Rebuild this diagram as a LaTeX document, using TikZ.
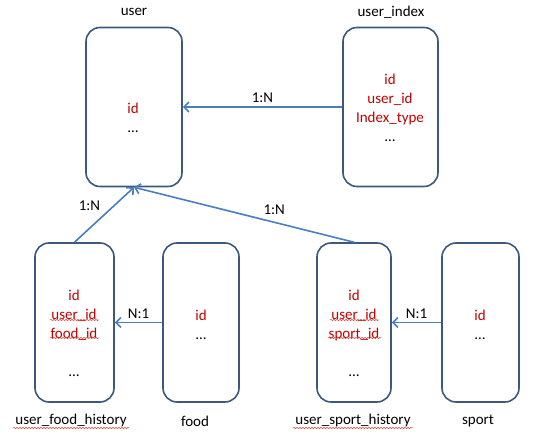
\documentclass[tikz,border=0pt]{standalone}
\usepackage{fontspec}
\setmainfont{Carlito}
\usepackage{xcolor}
\usetikzlibrary{arrows.meta,decorations.pathmorphing}
\definecolor{boxline}{RGB}{60,88,125}
\definecolor{relline}{RGB}{74,126,187}
\definecolor{fieldred}{RGB}{192,0,0}
\definecolor{squigred}{RGB}{235,70,70}

\begin{document}
\begin{tikzpicture}
  [x=1pt,y=-1pt,font=\fontsize{15}{19}\selectfont,
   table/.style={draw=boxline,line width=1.6pt,rounded corners=14pt,inner sep=0pt,minimum height=159pt},
   field/.style={text=fieldred,align=center},
   rel/.style={draw=relline,line width=1.6pt,-{Straight Barb[length=5pt,width=10pt]}},
   squig/.style={draw=squigred,line width=.5pt,decorate,decoration={snake,amplitude=.7pt,segment length=3pt}}]

  \useasboundingbox (0,0) rectangle (542,441);

  % tables
  \node[table,minimum width=96pt] (user) at (134,107) {};
  \node[table,minimum width=95pt] (index) at (390.5,107) {};
  \node[table,minimum width=79pt] (foodhist) at (74.5,322.5) {};
  \node[table,minimum width=76pt] (food) at (201,322.5) {};
  \node[table,minimum width=74pt] (sporthist) at (354,322.5) {};
  \node[table,minimum width=77pt] (sport) at (480.5,322.5) {};

  % table names
  \node (userT) at (134,12) {user};
  \node (indexT) at (391,12) {user\_index};
  \node (foodhistT) at (71,421) {user\_food\_history};
  \node (foodT) at (195,421) {food};
  \node (sporthistT) at (353,421) {user\_sport\_history};
  \node (sportT) at (478,421) {sport};

  % fields
  \node[field] (userF) at (133,118) {id\\\textcolor{black}{\ldots}};
  \node[field] (indexF) at (390,108) {id\\user\_id\\Index\_type\\\textcolor{black}{\ldots}};
  \node[field] (foodhistF) at (74,333.5) {id\\user\_id\\food\_id\\[19pt]\textcolor{black}{\ldots}};
  \node[field] (foodF) at (201,324.5) {id\\\textcolor{black}{\ldots}};
  \node[field] (sporthistF) at (354,333.5) {id\\user\_id\\sport\_id\\[19pt]\textcolor{black}{\ldots}};
  \node[field] (sportF) at (480,324.5) {id\\\textcolor{black}{\ldots}};

  % relations
  \draw[rel] (index) -- node[above] {1:N} (user);
  \draw[rel] (foodhist.north) -- node[above left] {1:N} (user.south);
  \draw[rel] (sporthist.north) -- node[pos=.43,above right] {1:N} (user.south);
  \draw[rel] (food) -- node[above] {N:1} (foodhist);
  \draw[rel] (sport) -- node[above] {N:1} (sporthist);

  % spell-check marks
  \foreach \a/\b/\y in
  {50/99/320,50/99/338,13/129/428,330/379/320,328/381/338,293/413/428}
    \draw[squig] (\a,\y) -- (\b,\y);
\end{tikzpicture}
\end{document}
